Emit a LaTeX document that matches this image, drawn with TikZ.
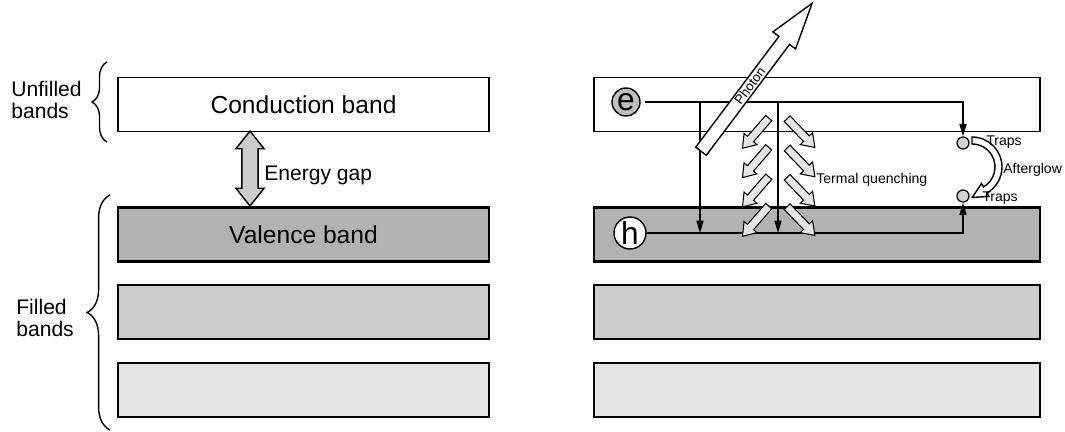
\documentclass[tikz,border=0pt]{standalone}
\usepackage{fontspec}
\setmainfont{Liberation Sans}
\usetikzlibrary{shapes.arrows,arrows.meta,decorations.pathreplacing,calc}

\begin{document}
\begin{tikzpicture}[x=0.02cm,y=0.02cm]
    \tikzstyle{band}=[rectangle, draw, line width=0.8pt, minimum height=1.08cm, inner sep=0pt, font=\fontsize{14}{16}\selectfont];
    \tikzstyle{filled band}=[band, line width=1.6pt];
    \tikzstyle{trap}=[circle, draw, line width=0.7pt, fill=gray!35, minimum size=0.24cm, inner sep=0pt];
    \tikzstyle{small label}=[font=\fontsize{8}{9}\selectfont, inner sep=0pt, anchor=west];
    \tikzstyle{quench}=[single arrow, draw, line width=0.6pt, fill=gray!20, minimum height=0.8cm, inner sep=2pt, single arrow head extend=0.09cm, single arrow tip angle=70];
    \tikzstyle{level}=[line width=0.8pt, -{Triangle[length=7pt,width=4pt]}];

    \useasboundingbox (0,0) rectangle (1065,-432);

    % left side
    \node[band, minimum width=7.42cm] (l1) at (303.5,-104.5) {Conduction band};
    \node[filled band, minimum width=7.42cm, fill=gray!60] (l2) at (303.5,-234.5) {Valence band};
    \node[filled band, minimum width=7.42cm, fill=gray!40] (l3) at (303.5,-312) {};
    \node[filled band, minimum width=7.42cm, fill=gray!20] (l4) at (303.5,-390) {};

    \draw[line width=0.8pt, decorate, decoration={brace, amplitude=8.5pt}] (107,-142) -- (107,-62);
    \draw[line width=0.8pt, decorate, decoration={brace, amplitude=13pt}] (110,-430) -- (110,-195);
    \node[align=left, anchor=west, inner sep=0pt, font=\fontsize{12}{13}\selectfont] (ub) at (11,-100) {Unfilled\\bands};
    \node[align=left, anchor=west, inner sep=0pt, font=\fontsize{12}{13}\selectfont] (fb) at (16,-318) {Filled\\bands};

    \node[double arrow, draw, line width=0.8pt, fill=gray!40, rotate=90, minimum height=1.5cm, inner sep=4.2pt, double arrow head extend=0.12cm, double arrow tip angle=77] (gap) at (250,-168.5) {};
    \node[anchor=west, inner sep=0pt, font=\fontsize{12}{14}\selectfont] (gl) at (264,-175) {Energy gap};

    % right side
    \node[band, minimum width=8.92cm] (r1) at (817,-104.5) {};
    \node[filled band, minimum width=8.92cm, fill=gray!60] (r2) at (817,-234.5) {};
    \node[filled band, minimum width=8.92cm, fill=gray!40] (r3) at (817,-312) {};
    \node[filled band, minimum width=8.92cm, fill=gray!20] (r4) at (817,-390) {};

    \node[circle, draw, line width=0.8pt, fill=gray!50, minimum size=0.56cm, inner sep=0pt, outer sep=3pt, font=\fontsize{18}{18}\selectfont] (e) at (626,-102) {e};
    \node[circle, draw, line width=0.8pt, fill=white, minimum size=0.64cm, inner sep=0pt, font=\fontsize{18}{18}\selectfont] (h) at (630,-233) {h};

    \coordinate (ac) at (972,-167);
    \draw[line width=0.8pt, fill=white] ($(ac)+(90:30)$) arc[start angle=90, end angle=-60, radius=30]
        -- ($(ac)+(-60:34)$) -- ($(ac)+(-60:26.5)+(-150:15)$) -- ($(ac)+(-60:19)$)
        -- ($(ac)+(-60:23)$) arc[start angle=-60, end angle=90, radius=23] -- cycle;

    \node[trap] (t1) at (963,-143) {};
    \node[trap] (t2) at (963,-196) {};

    \draw[level] (e) -| (t1);
    \draw[level] (h) -| (t2);

    \coordinate (d1) at (700,-102);
    \coordinate (d2) at (700,-233);
    \coordinate (d3) at (778,-102);
    \coordinate (d4) at (778,-233);
    \draw[level] (d1) -- (d2);
    \draw[level] (d3) -- (d4);

    \foreach \y [count=\i] in {131,160.3,189.6,219} {
        \node[quench, rotate=229] (ql\i) at (757.5,-\y) {};
        \node[quench, rotate=-46] (qr\i) at (799,-\y) {};
    }

    \node[single arrow, draw, line width=0.8pt, fill=white, rotate=53.1, minimum height=3.7cm, inner xsep=0pt, inner ysep=0.9pt, text height=5pt, text depth=0pt, single arrow head extend=0.15cm, single arrow tip angle=34, font=\fontsize{7.5}{8}\selectfont] (ph) at (750,-86) {Photon};

    \node[small label] (tq) at (816,-180) {Termal quenching};
    \node[small label] (tr1) at (986,-142) {Traps};
    \node[small label] (tr2) at (982,-198) {Traps};
    \node[small label] (ag) at (1003,-170) {Afterglow};
\end{tikzpicture}
\end{document}
